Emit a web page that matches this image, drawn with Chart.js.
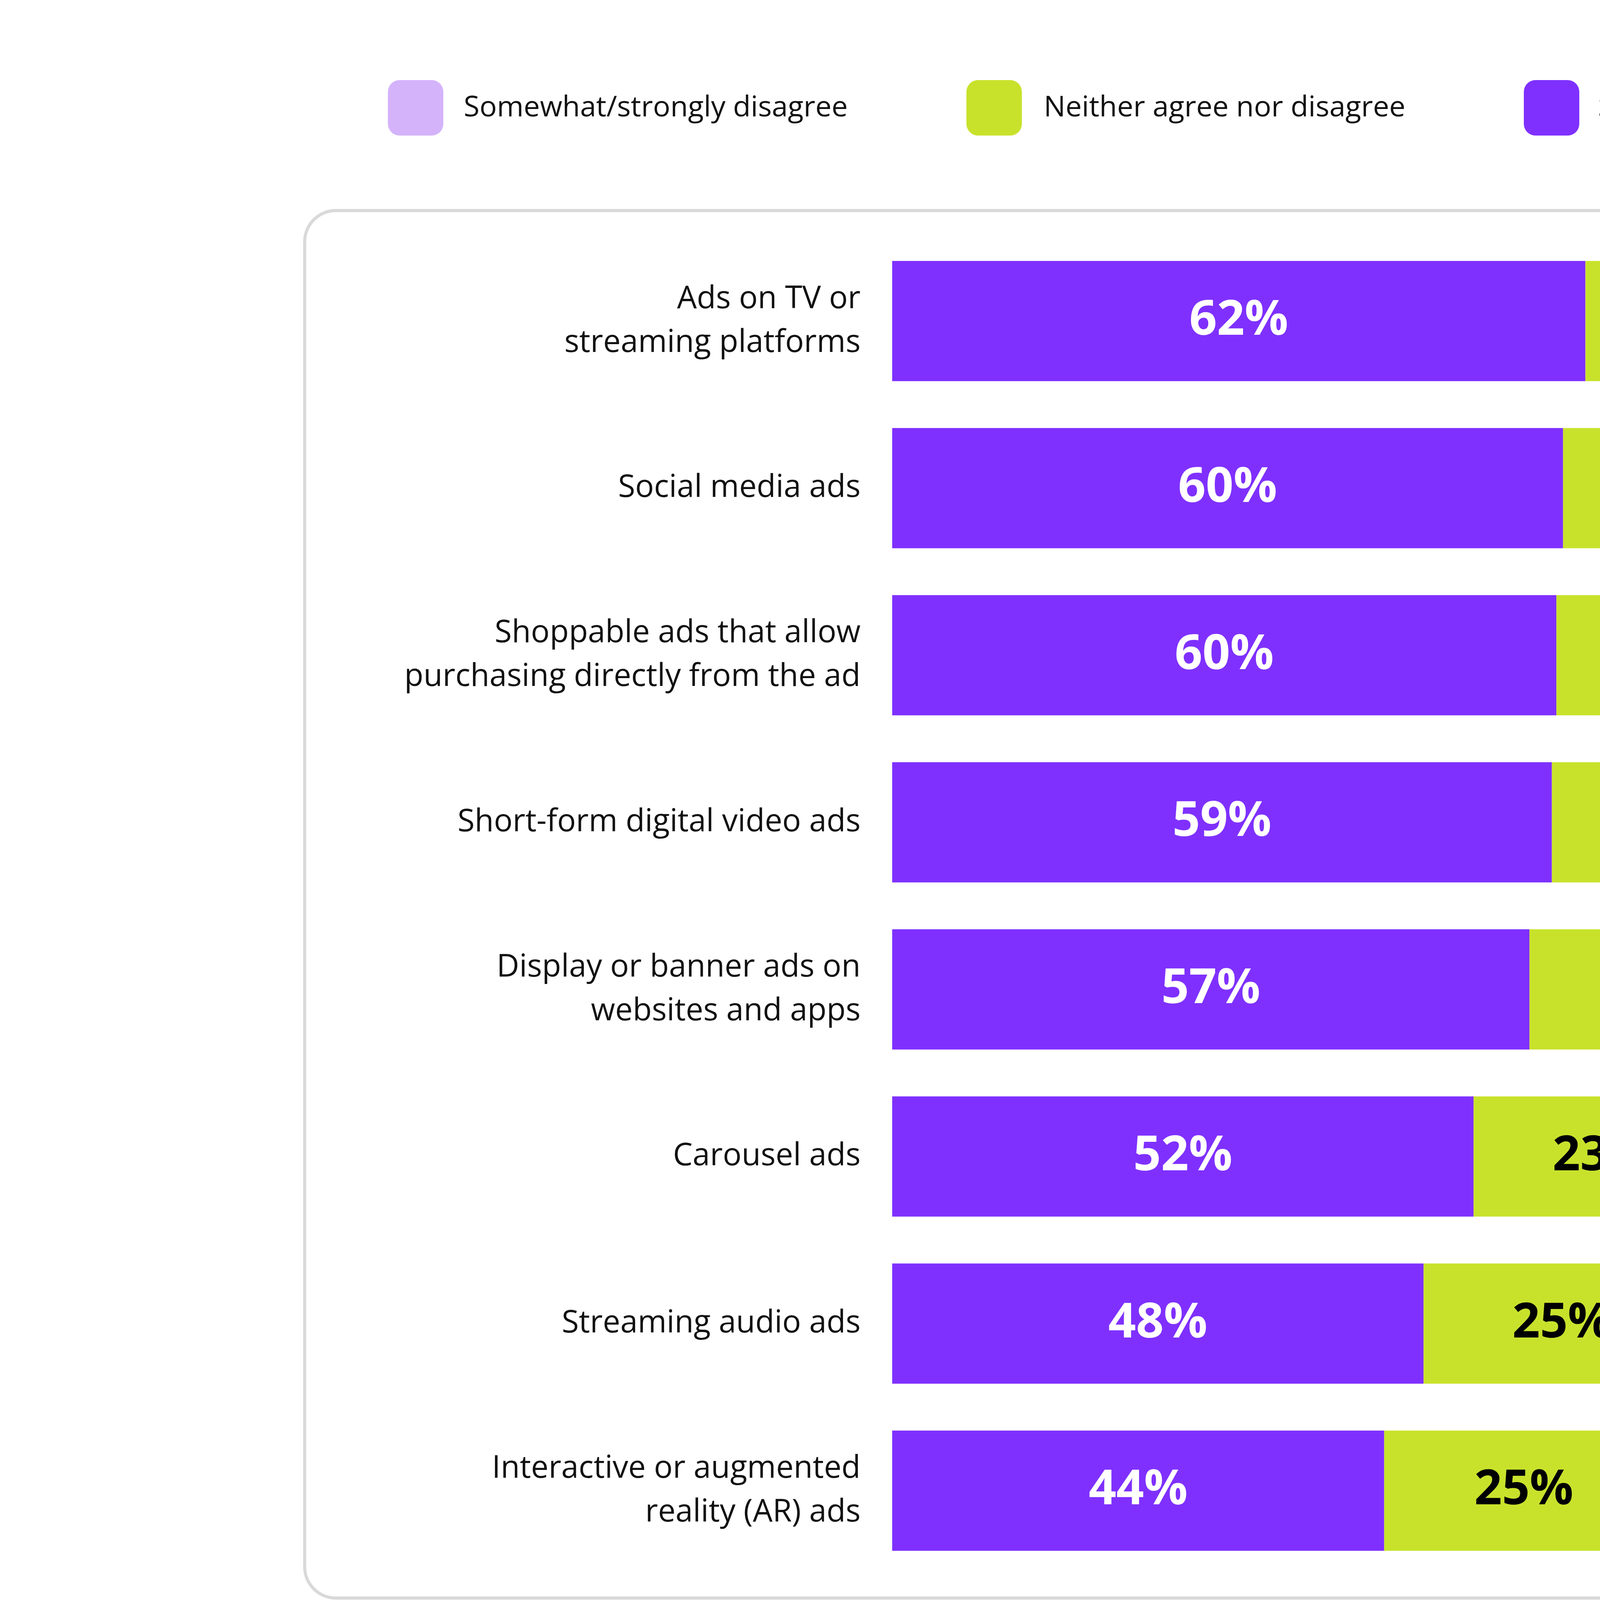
<!DOCTYPE html>
<html>
<head>
<meta charset="utf-8">
<script src="https://cdn.jsdelivr.net/npm/chart.js@4/dist/chart.umd.min.js"></script>
<style>
  body { margin: 0; background: #fff; }
</style>
</head>
<body>
<canvas id="myChart" width="6050" height="4279"></canvas>
<script>
// data
const categories = [
  ['Ads on TV or', 'streaming platforms'],
  ['Social media ads'],
  ['Shoppable ads that allow', 'purchasing directly from the ad'],
  ['Short-form digital video ads'],
  ['Display or banner ads on', 'websites and apps'],
  ['Carousel ads'],
  ['Streaming audio ads'],
  ['Interactive or augmented', 'reality (AR) ads']
];
const agree = [62, 60, 60, 59, 57, 52, 48, 44];
const neither = [22, 19, 21, 21, 23, 23, 25, 25];
const disagree = [16, 21, 20, 20, 20, 25, 28, 31];

const seriesNames = ['Strongly/somewhat agree', 'Neither agree nor disagree', 'Somewhat/strongly disagree'];
const colors = ['#7f30ff', '#c8e22c', '#d5b3fb'];
const labelColors = ['#ffffff', '#000000', '#000000'];
const raw = [agree, neither, disagree];

// bars all end at the same edge, so scale each row to its total
const totals = agree.map((v, i) => v + neither[i] + disagree[i]);
const datasets = raw.map((arr, k) => ({
  label: seriesNames[k],
  data: arr.map((v, i) => v / totals[i] * 100),
  backgroundColor: colors[k],
  borderWidth: 0,
  barPercentage: 0.72,
  categoryPercentage: 1
}));

const FONT = '"Open Sans", "DejaVu Sans", sans-serif';

const decor = {
  id: 'decor',
  beforeDraw(chart) {
    const ctx = chart.ctx;
    ctx.save();
    ctx.fillStyle = '#fff';
    ctx.fillRect(0, 0, chart.width, chart.height);
    // frame
    ctx.strokeStyle = '#d9d9d9';
    ctx.lineWidth = 8;
    ctx.beginPath();
    ctx.roundRect(780, 539, 5274 - 780, 4091 - 539, 80);
    ctx.stroke();
    // legend
    const legend = [
      { name: seriesNames[2], color: colors[2], box: 993, text: 1187 },
      { name: seriesNames[1], color: colors[1], box: 2474, text: 2672 },
      { name: seriesNames[0], color: colors[0], box: 3901, text: 4091 }
    ];
    ctx.font = '74px ' + FONT;
    ctx.textBaseline = 'middle';
    ctx.textAlign = 'left';
    legend.forEach(l => {
      ctx.fillStyle = l.color;
      ctx.beginPath();
      ctx.roundRect(l.box, 205, 142, 142, 30);
      ctx.fill();
      ctx.fillStyle = '#111';
      ctx.fillText(l.name, l.text, 277);
    });
    ctx.restore();
  },
  afterDatasetsDraw(chart) {
    const ctx = chart.ctx;
    ctx.save();
    // category labels
    const yScale = chart.scales.y;
    ctx.font = '80px ' + FONT;
    ctx.fillStyle = '#111';
    ctx.textAlign = 'right';
    ctx.textBaseline = 'middle';
    categories.forEach((lines, i) => {
      const cy = yScale.getPixelForValue(i);
      const lh = 112;
      lines.forEach((t, j) => {
        ctx.fillText(t, 2203, cy + (j - (lines.length - 1) / 2) * lh);
      });
    });
    // value labels
    ctx.font = 'bold 124px ' + FONT;
    ctx.textAlign = 'center';
    chart.data.datasets.forEach((ds, k) => {
      chart.getDatasetMeta(k).data.forEach((bar, i) => {
        const x0 = bar.base, x1 = bar.x;
        ctx.fillStyle = labelColors[k];
        ctx.fillText(raw[k][i] + '%', (x0 + x1) / 2, bar.y);
      });
    });
    ctx.restore();
  }
};

new Chart(document.getElementById('myChart'), {
  type: 'bar',
  data: { labels: categories.map(c => c.join(' ')), datasets: datasets },
  options: {
    indexAxis: 'y',
    responsive: false,
    animation: false,
    devicePixelRatio: 1,
    layout: { padding: { left: 2284, right: 904, top: 608, bottom: 249 } },
    plugins: { legend: { display: false }, tooltip: { enabled: false } },
    scales: {
      x: { stacked: true, min: 0, max: 100, display: false },
      y: { stacked: true, display: false }
    }
  },
  plugins: [decor]
});
</script>
</body>
</html>
